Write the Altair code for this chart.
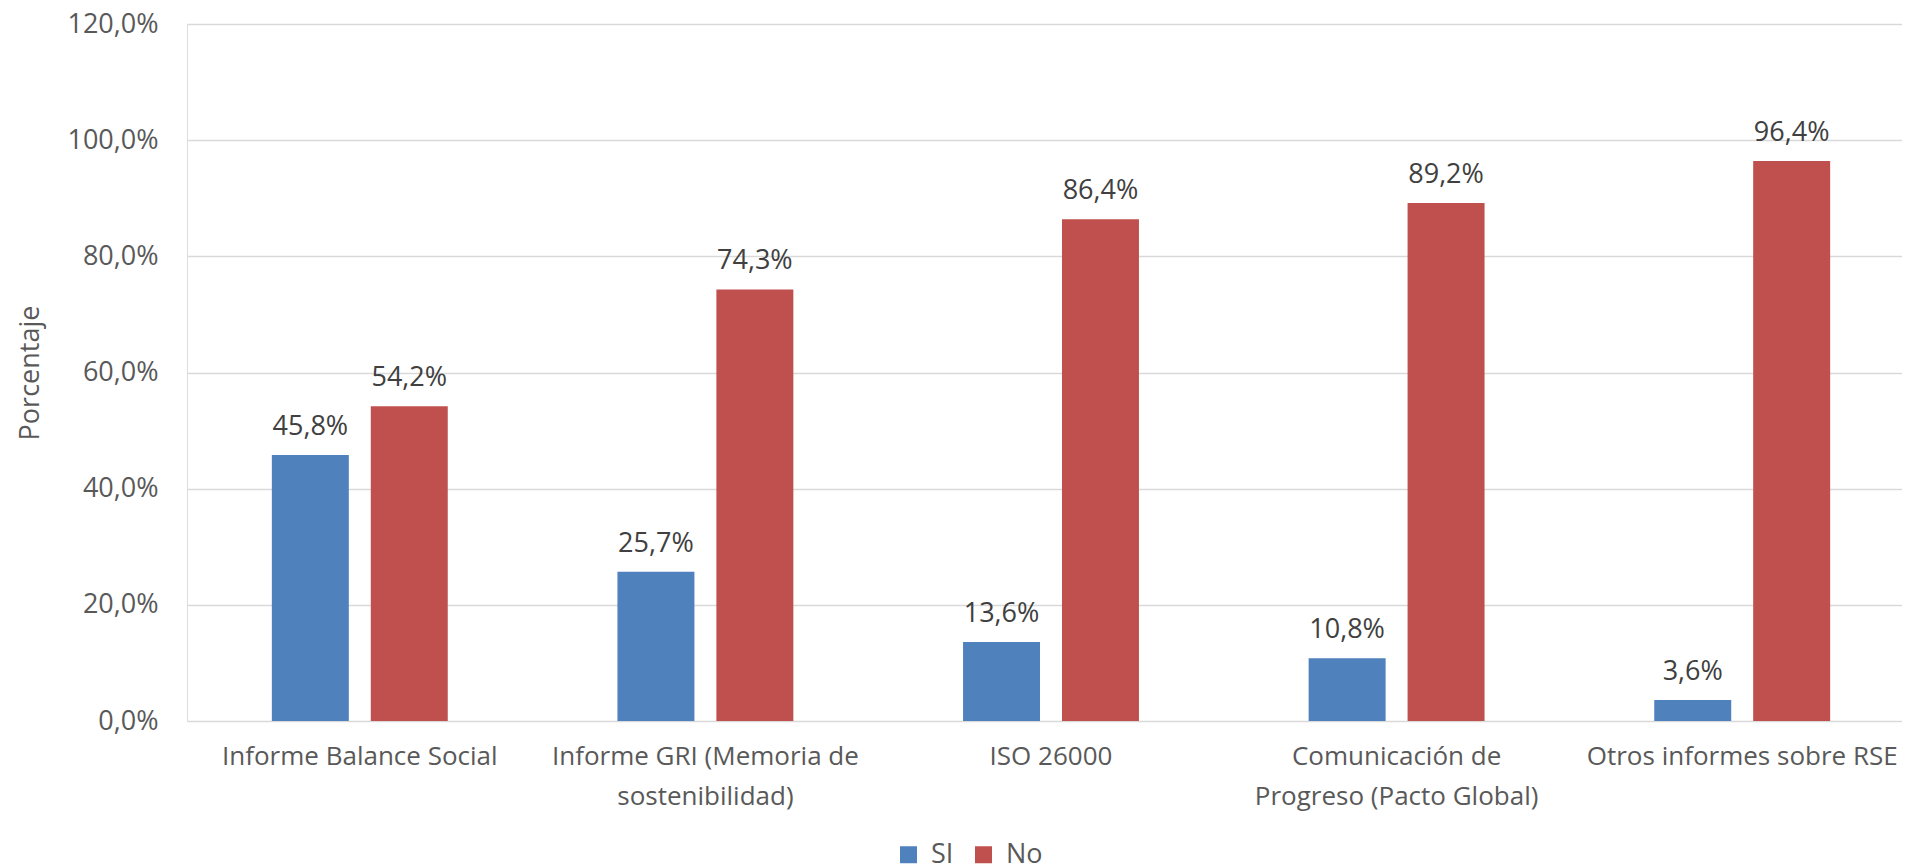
import altair as alt
import pandas as pd

categories = [
    "Informe Balance Social",
    "Informe GRI (Memoria de\nsostenibilidad)",
    "ISO 26000",
    "Comunicación de\nProgreso (Pacto Global)",
    "Otros informes sobre RSE",
]
series = ["SI", "No"]
si_values = [45.8, 25.7, 13.6, 10.8, 3.6]
no_values = [54.2, 74.3, 86.4, 89.2, 96.4]
y_ticks = [0, 20, 40, 60, 80, 100, 120]

rows = []
for c, s, n in zip(categories, si_values, no_values):
    rows.append({"cat": c, "serie": "SI", "val": s})
    rows.append({"cat": c, "serie": "No", "val": n})
df = pd.DataFrame(rows)
df["lbl"] = df["val"].map(lambda v: f"{v:.1f}".replace(".", ",") + "%")

FONT = "Open Sans"
W, H = 1715, 697

x = alt.X(
    "cat:N",
    sort=categories,
    scale=alt.Scale(range=[0, 1728], paddingInner=0.491, paddingOuter=0.2455),
    axis=alt.Axis(
        title=None,
        labelAngle=0,
        ticks=False,
        domain=False,
        labelFont=FONT,
        labelFontSize=26,
        labelColor="#595959",
        labelPadding=22,
        labelLineHeight=40,
        labelBaseline="top",
        labelExpr="split(datum.label, '\\n')",
        labelLimit=500,
    ),
)
xo = alt.XOffset("serie:N", sort=series, scale=alt.Scale(paddingInner=0.222))
color = alt.Color(
    "serie:N",
    sort=series,
    scale=alt.Scale(domain=series, range=["#4F81BD", "#C0504D"]),
    legend=alt.Legend(
        title=None,
        orient="none",
        direction="horizontal",
        legendX=708,
        legendY=817,
        symbolType="square",
        symbolSize=289,
        symbolStrokeWidth=0,
        labelFont=FONT,
        labelFontSize=27,
        labelColor="#595959",
        labelOffset=9,
        columnPadding=16,
    ),
)
y = alt.Y(
    "val:Q",
    scale=alt.Scale(domain=[0, 120], nice=False),
    axis=alt.Axis(
        values=y_ticks,
        title="Porcentaje",
        titleFont=FONT,
        titleFontSize=27,
        titleFontWeight="normal",
        titleColor="#595959",
        titleX=-157,
        titleY=H / 2,
        titleAngle=-90,
        titleAlign="center",
        titleBaseline="middle",
        labelExpr="replace(format(datum.value, '.1f'), '.', ',') + '%'",
        labelFont=FONT,
        labelFontSize=27,
        labelColor="#595959",
        labelPadding=29,
        ticks=False,
        domain=False,
        grid=True,
        gridColor="#D9D9D9",
        gridWidth=1.3,
    ),
)

base = alt.Chart(df)
bars = base.mark_bar().encode(x=x, xOffset=xo, y=y, color=color)
texts = base.mark_text(
    font=FONT, fontSize=27, color="#404040", baseline="alphabetic", dy=-20
).encode(x=x, xOffset=xo, y=y, text="lbl:N")

chart = (
    (bars + texts)
    .properties(
        width=W,
        height=H,
        autosize=alt.AutoSizeParams(type="none"),
        padding={"left": 179, "top": 16, "right": 0, "bottom": 152},
    )
    .configure_view(stroke=None)
    .configure(background="white")
)

chart.save("out.html", embed_options={"renderer": "svg", "actions": False})
